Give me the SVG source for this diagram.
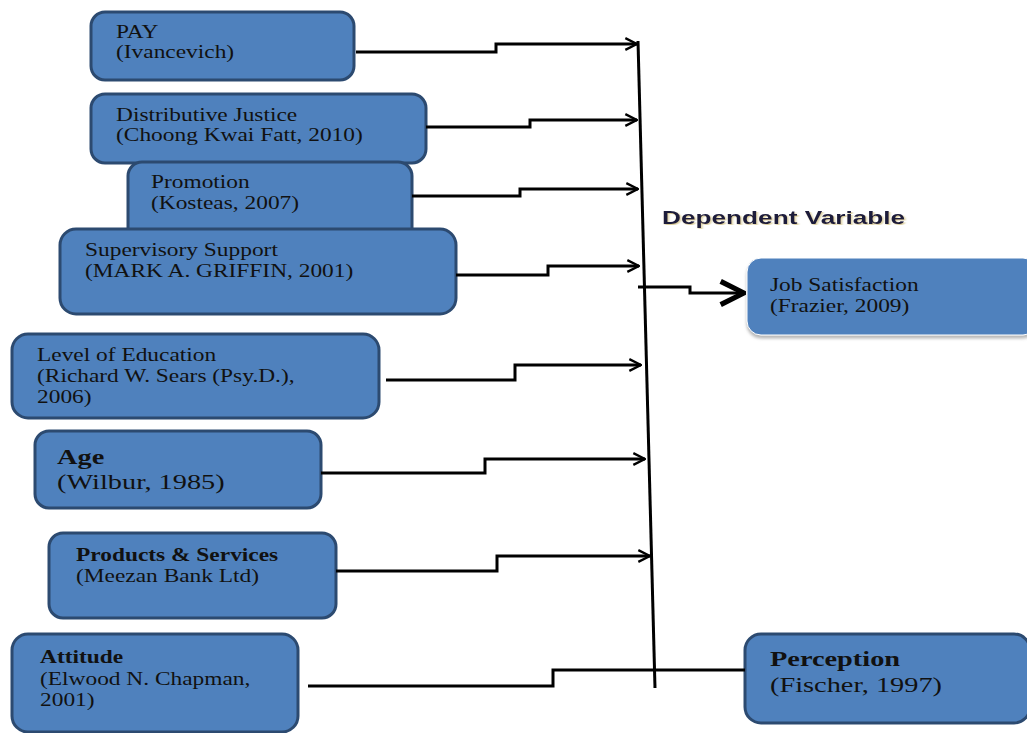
<svg xmlns="http://www.w3.org/2000/svg" width="1027" height="733" viewBox="0 0 1027 733">
<defs>
<style>
.box{fill:#4F81BD;stroke:#2C4A70;stroke-width:3}
.t{font-family:"Liberation Serif","Times New Roman",serif;font-size:18px;fill:#111}
.b{font-weight:bold}
.big{font-size:21px}
.c{fill:none;stroke:#000;stroke-width:3}
</style>
<marker id="ah" viewBox="0 0 12 12" refX="11" refY="6" markerWidth="14" markerHeight="14" markerUnits="userSpaceOnUse" orient="auto">
<path d="M1,1 L11,6 L1,11" fill="none" stroke="#000" stroke-width="2"/>
</marker>
<marker id="ah2" viewBox="0 0 12 12" refX="11" refY="6" markerWidth="28" markerHeight="28" markerUnits="userSpaceOnUse" orient="auto">
<path d="M1,1 L11,6 L1,11" fill="none" stroke="#000" stroke-width="2.2"/>
</marker>
<filter id="sh" x="-10%" y="-10%" width="130%" height="140%">
<feDropShadow dx="0" dy="3" stdDeviation="1.5" flood-color="#888" flood-opacity="0.6"/>
</filter>
<filter id="tsh" x="-5%" y="-20%" width="110%" height="150%">
<feDropShadow dx="1" dy="1" stdDeviation="0.6" flood-color="#a08000" flood-opacity="0.4"/>
</filter>
</defs>
<rect width="1027" height="733" fill="#fff"/>
<g id="pay"><rect class="box" x="91" y="12" width="263" height="68" rx="14"/>
<g transform="translate(116 0) scale(1.3 1)"><text class="t" x="0" y="38">PAY</text><text class="t" x="0" y="58">(Ivancevich)</text></g></g>
<g id="distributive"><rect class="box" x="91" y="94" width="335" height="69" rx="14"/>
<g transform="translate(116 0) scale(1.3 1)"><text class="t" x="0" y="121">Distributive Justice</text><text class="t" x="0" y="141">(Choong Kwai Fatt, 2010)</text></g></g>
<g id="promotion"><rect class="box" x="128" y="162" width="284" height="80" rx="14"/>
<g transform="translate(151 0) scale(1.3 1)"><text class="t" x="0" y="188">Promotion</text><text class="t" x="0" y="209">(Kosteas, 2007)</text></g></g>
<g id="supervisory"><rect class="box" x="60" y="229" width="396" height="85" rx="16"/>
<g transform="translate(85 0) scale(1.3 1)"><text class="t" x="0" y="256">Supervisory Support</text><text class="t" x="0" y="277">(MARK A. GRIFFIN, 2001)</text></g></g>
<g id="education"><rect class="box" x="12" y="334" width="367" height="84" rx="16"/>
<g transform="translate(37 0) scale(1.3 1)"><text class="t" x="0" y="361">Level of Education</text><text class="t" x="0" y="382">(Richard W. Sears (Psy.D.),</text><text class="t" x="0" y="403">2006)</text></g></g>
<g id="age"><rect class="box" x="35" y="431" width="286" height="77" rx="14"/>
<g transform="translate(57 0) scale(1.35 1)"><text class="t b big" x="0" y="464">Age</text><text class="t big" x="0" y="489">(Wilbur, 1985)</text></g></g>
<g id="products"><rect class="box" x="49" y="533" width="287" height="85" rx="14"/>
<g transform="translate(76 0) scale(1.3 1)"><text class="t b" x="0" y="561">Products &amp; Services</text><text class="t" x="0" y="582">(Meezan Bank Ltd)</text></g></g>
<g id="attitude"><rect class="box" x="12" y="634" width="286" height="98" rx="16"/>
<g transform="translate(40 0) scale(1.3 1)"><text class="t b" x="0" y="663">Attitude</text><text class="t" x="0" y="685">(Elwood N. Chapman,</text><text class="t" x="0" y="706">2001)</text></g></g>
<g id="job"><rect x="747" y="258" width="290" height="77" rx="14" fill="#4F81BD" stroke="#fff" stroke-width="1" filter="url(#sh)"/>
<g transform="translate(770 0) scale(1.3 1)"><text class="t" x="0" y="291">Job Satisfaction</text><text class="t" x="0" y="312">(Frazier, 2009)</text></g></g>
<g id="perception"><rect class="box" x="745" y="634" width="285" height="89" rx="16"/>
<g transform="translate(770 0) scale(1.35 1)"><text class="t b big" x="0" y="666">Perception</text><text class="t big" x="0" y="692">(Fischer, 1997)</text></g></g>
<g id="label"><g transform="translate(662 0) scale(1.38 1)"><text x="0" y="224" font-family="Liberation Sans, Arial, sans-serif" font-weight="bold" font-size="19" fill="#1a1a3a" filter="url(#tsh)">Dependent Variable</text></g></g>
<g id="connectors">
<path class="c" d="M638,41 L655,688"/>
<path class="c" d="M356,52 H496 V44 H637" marker-end="url(#ah)"/>
<path class="c" d="M426,127 H530 V120 H637" marker-end="url(#ah)"/>
<path class="c" d="M412,196 H520 V189 H638" marker-end="url(#ah)"/>
<path class="c" d="M456,275 H548 V266 H639" marker-end="url(#ah)"/>
<path class="c" d="M386,380 H515 V365 H641" marker-end="url(#ah)"/>
<path class="c" d="M321,473 H485 V459 H645" marker-end="url(#ah)"/>
<path class="c" d="M336,571 H497 V556 H650" marker-end="url(#ah)"/>
<path class="c" d="M308,686 H553 V670 H745"/>
<path class="c" d="M638,287 H690 V293 H744" stroke-width="4" marker-end="url(#ah2)"/>
</g>
</svg>
